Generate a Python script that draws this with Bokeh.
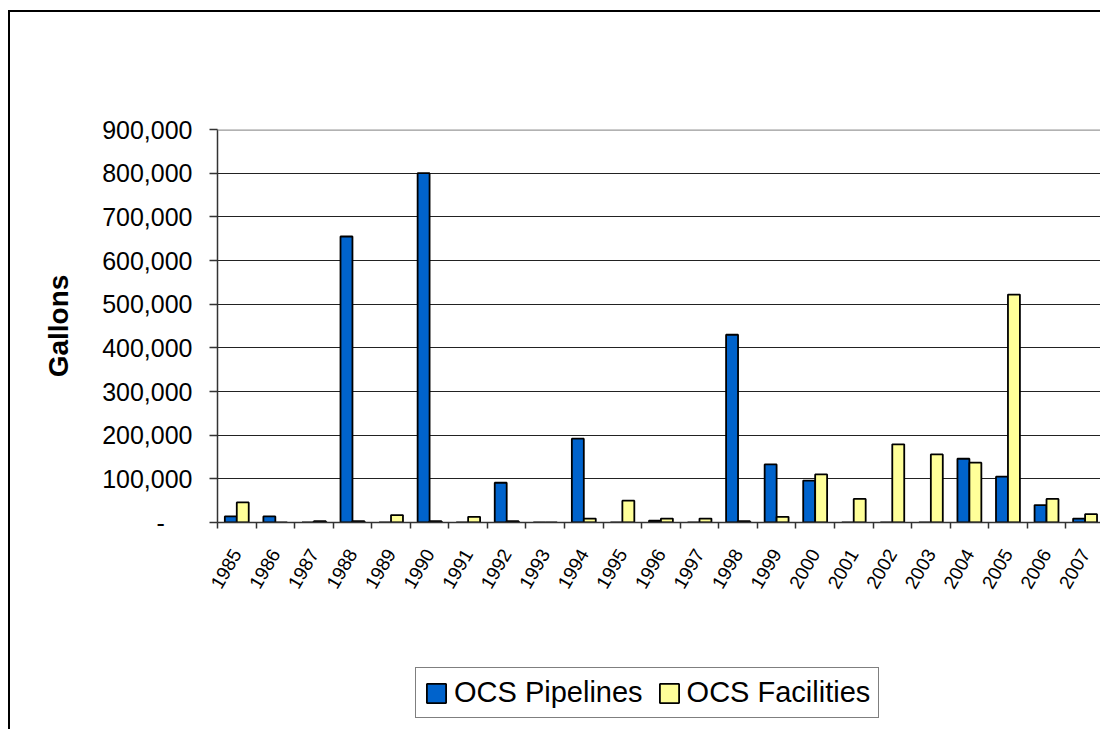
import math
from bokeh.plotting import figure
from bokeh.layouts import column
from bokeh.models import (FixedTicker, CustomJSTickFormatter, Legend, LegendItem,
                          ColumnDataSource, Range1d, Span)
from bokeh.embed import file_html
from bokeh.resources import INLINE

years = [str(y) for y in range(1985, 2008)]
pipelines = [14000, 14000, 0, 655000, 0, 800000, 0, 91000, 0, 192000, 0, 4000,
             0, 430000, 133000, 96000, 0, 0, 0, 146000, 105000, 40000, 9000]
facilities = [46000, 0, 3000, 3000, 17000, 3000, 13000, 3000, 0, 9000, 50000, 9000,
              9000, 3000, 13000, 110000, 54000, 179000, 156000, 137000, 522000, 54000, 19000]
y_ticks = [0, 100000, 200000, 300000, 400000, 500000, 600000, 700000, 800000, 900000]
series_names = ["OCS Pipelines", "OCS Facilities"]

FONT = "Liberation Sans"
BLUE = "#0063CC"
YELLOW = "#FFFF99"
BAR_W = 0.31

idx = list(range(len(years)))
src = ColumnDataSource(dict(
    xp=[i + 0.5 - BAR_W / 2 for i in idx],
    xf=[i + 0.5 + BAR_W / 2 for i in idx],
    pipelines=pipelines,
    facilities=facilities,
))

p = figure(
    frame_width=883, frame_height=393,
    min_border_left=207, min_border_right=0, min_border_top=117, min_border_bottom=130,
    x_range=Range1d(0, 22.9), y_range=Range1d(0, 900000),
    output_backend="svg", toolbar_location=None,
)
p.outline_line_color = None
p.background_fill_color = "white"
p.border_fill_color = "white"

p.vbar(x="xp", top="pipelines", width=BAR_W, source=src,
       fill_color=BLUE, line_color="black", line_width=1.8)
p.vbar(x="xf", top="facilities", width=BAR_W, source=src,
       fill_color=YELLOW, line_color="black", line_width=1.8)

# x axis
xa = p.xaxis[0]
xa.ticker = FixedTicker(ticks=[i + 0.5 for i in idx], minor_ticks=list(range(0, 24)))
xa.formatter = CustomJSTickFormatter(args=dict(years=years),
                                     code="return years[Math.floor(tick)] || '';")
xa.major_tick_out = 0
xa.major_tick_in = 0
xa.minor_tick_out = 6
xa.minor_tick_in = 0
xa.minor_tick_line_color = "#333333"
xa.minor_tick_line_width = 1.5
xa.axis_line_color = "#333333"
xa.axis_line_width = 1.5
xa.major_label_orientation = math.pi / 3
xa.major_label_text_font = FONT
xa.major_label_text_font_size = "19px"
xa.major_label_text_color = "black"
xa.major_label_standoff = 22

# y axis
ya = p.yaxis[0]
ya.ticker = FixedTicker(ticks=y_ticks)
ya.formatter = CustomJSTickFormatter(code="""
if (tick == 0) { return '-\u00a0\u00a0\u00a0\u00a0'; }
return Math.round(tick).toString().replace(/\\B(?=(\\d{3})+(?!\\d))/g, ',');
""")
ya.minor_tick_line_color = None
ya.major_tick_out = 8
ya.major_tick_in = 0
ya.major_tick_line_color = "#333333"
ya.major_tick_line_width = 1.5
ya.axis_line_color = "#333333"
ya.axis_line_width = 1.5
ya.major_label_text_font = FONT
ya.major_label_text_font_size = "25px"
ya.major_label_text_color = "black"
ya.major_label_standoff = 17
ya.axis_label = "Gallons"
ya.axis_label_text_font = FONT
ya.axis_label_text_font_size = "28px"
ya.axis_label_text_font_style = "bold"
ya.axis_label_text_color = "black"
ya.axis_label_standoff = 25

# grid
p.xgrid.visible = False
p.ygrid.ticker = FixedTicker(ticks=y_ticks[1:-1])
p.ygrid.grid_line_color = "#222222"
p.ygrid.grid_line_width = 1
p.add_layout(Span(location=900000, dimension="width", line_color="#999999", line_width=2.5))

# legend strip below the chart (its swatches come from off-range proxy quads)
p2 = figure(width=1090, height=77, min_border=0,
            x_range=Range1d(0, 1), y_range=Range1d(0, 1),
            x_axis_type=None, y_axis_type=None,
            output_backend="svg", toolbar_location=None)
p2.outline_line_color = None
p2.grid.visible = False
p2.background_fill_color = "white"
p2.border_fill_color = "white"
d1 = p2.quad(left=[-50], right=[-49], bottom=[-50], top=[-49],
             fill_color=BLUE, line_color="black", line_width=1.8)
d2 = p2.quad(left=[-50], right=[-49], bottom=[-50], top=[-49],
             fill_color=YELLOW, line_color="black", line_width=1.8)

legend = Legend(
    items=[LegendItem(label=series_names[0], renderers=[d1]),
           LegendItem(label=series_names[1], renderers=[d2])],
    orientation="horizontal",
    location=(198, 11),
    margin=0, padding=8, spacing=14,
    label_standoff=6, glyph_width=24, glyph_height=24,
    label_text_font=FONT, label_text_font_size="29px", label_text_color="black",
    border_line_color="black", border_line_width=1,
    background_fill_color="white", background_fill_alpha=1,
)
p2.add_layout(legend, "center")

layout = column(p, p2, spacing=0)
layout.styles = {"margin-left": "8px", "margin-top": "10px",
                 "border-left": "2px solid black", "border-top": "2px solid black"}

open("out.html", "w").write(file_html(layout, INLINE))
